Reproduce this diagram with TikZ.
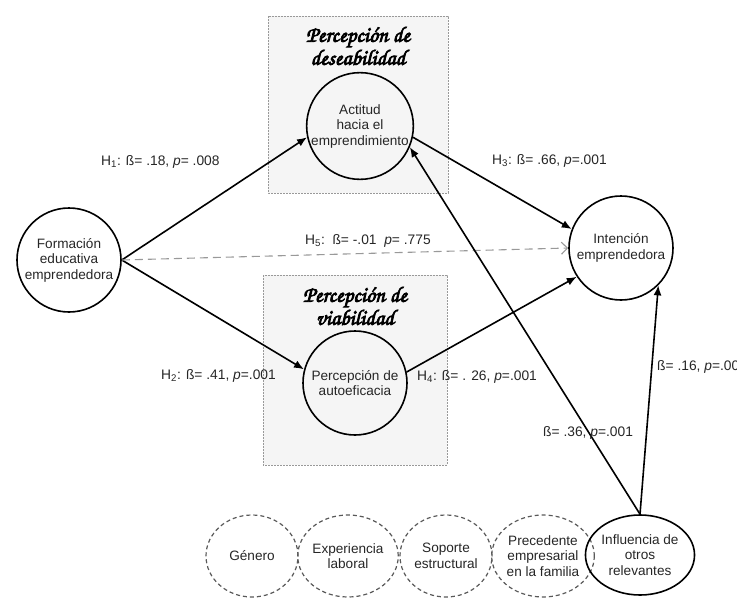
\documentclass[tikz,border=0pt]{standalone}
\usepackage{fontspec}
\setmainfont{Liberation Sans}
\newfontfamily\chorusfont[FakeBold=3.5]{TeX Gyre Chorus}
\usetikzlibrary{arrows.meta,shapes.geometric}

\tikzset{
  construct/.style={circle, draw, line width=1.6pt, minimum size=104pt, inner sep=0pt,
    align=center, font=\fontsize{13.6}{15.5}\selectfont, text=black!85},
  control/.style={ellipse, draw=black!65, dash pattern=on 4pt off 3pt, line width=1.2pt,
    minimum width=92pt, minimum height=82pt, inner sep=0pt,
    align=center, font=\fontsize{13.6}{15.5}\selectfont, text=black!85},
  relevant/.style={ellipse, draw, line width=1.6pt, minimum width=94pt, minimum height=80pt,
    inner sep=0pt, align=center, font=\fontsize{13.6}{15.5}\selectfont, text=black!85},
  dimbox/.style={draw=black!40, dash pattern=on 2pt off 1pt, line width=0.5pt, fill=black!4},
  dimtitle/.style={font=\chorusfont\fontsize{22}{23}\selectfont, align=center},
  effect/.style={-{Latex[length=10pt,width=8pt]}, line width=1.6pt},
  nsig/.style={-{Straight Barb[length=6pt,width=12pt]}, draw=black!40,
    dash pattern=on 8pt off 5pt, line width=1.1pt},
  coef/.style={font=\fontsize{13.8}{15.5}\selectfont, text=black!85, inner sep=0pt}
}

\begin{document}
\begin{tikzpicture}[x=1pt,y=-1pt]
\clip (0,0) rectangle (737,605);

% dimensiones
\draw[dimbox] (268,16) rectangle (448,193);
\draw[dimbox] (263,275) rectangle (447,465);
\node[dimtitle] (tdes) at (358,46) {Percepción de\\deseabilidad};
\node[dimtitle] (tvia) at (355,306) {Percepción de\\viabilidad};

% constructos
\node[construct] (fe) at (69,260) {Formación\\educativa\\emprendedora};
\node[construct] (act) at (360,126) {Actitud\\hacia el\\emprendimiento};
\node[construct] (aut) at (355,383) {Percepción de\\autoeficacia};
\node[construct] (int) at (621,248) {Intención\\emprendedora};

% variables de control
\node[control] (gen) at (252,556) {Género};
\node[control] (exp) at (348,556) {Experiencia\\laboral};
\node[control] (sop) at (446,556) {Soporte\\estructural};
\node[control] (pre) at (543,556) {Precedente\\empresarial\\en la familia};
\node[relevant] (inf) at (640,555) {Influencia de\\otros\\relevantes};

% relaciones
\draw[effect] (fe.east) -- (act.192);
\draw[effect] (fe.east) -- (aut.165);
\draw[nsig] (fe.east) -- (int.west);
\draw[effect] (act.-12) -- (int.159);
\draw[effect] (aut.12) -- (int.213);
\draw[effect] (inf.north) -- (act.-23);
\draw[effect] (inf.north) -- (int.south east);

% coeficientes
\node[coef, anchor=west] (h1) at (101,162) {H\textsubscript{1}: ß= .18, \textit{p}= .008};
\node[coef, anchor=west] (h5) at (305,241) {H\textsubscript{5}:\ \ ß= -.01\ \ \textit{p}= .775};
\node[coef, anchor=east] (h2) at (276,376) {H\textsubscript{2}: ß= .41, \textit{p}=.001};
\node[coef, anchor=west] (h3) at (492,161) {H\textsubscript{3}: ß= .66, \textit{p}=.001};
\node[coef, anchor=west] (h4) at (417,377) {H\textsubscript{4}: ß= . 26, \textit{p}=.001};
\node[coef, anchor=west] (b36) at (543,433) {ß= .36, \textit{p}=.001};
\node[coef, anchor=west] (b16) at (657,367) {ß= .16, \textit{p}=.001};
\end{tikzpicture}
\end{document}
